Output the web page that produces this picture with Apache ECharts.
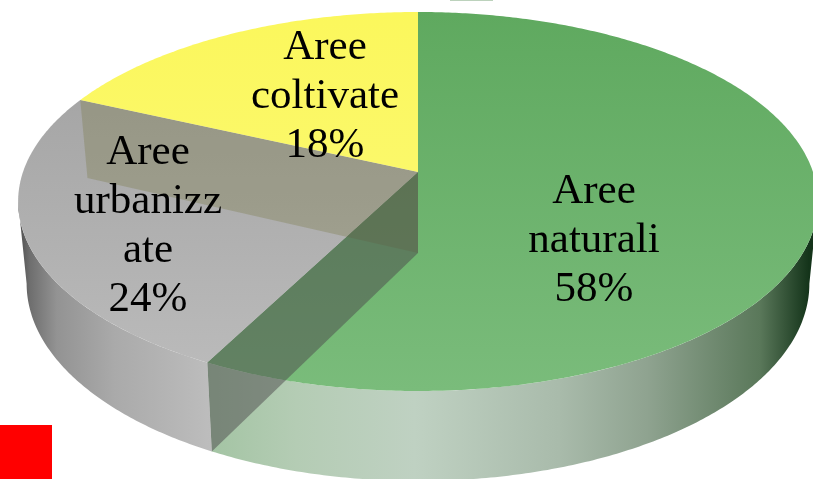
<!DOCTYPE html>
<html><head><meta charset="utf-8">
<script src="https://cdn.jsdelivr.net/npm/echarts@6/dist/echarts.min.js"></script>
<style>html,body{margin:0;padding:0;background:#fff}#c{width:813px;height:479px}</style>
</head><body><div id="c"></div>
<script>
const categories = ['Aree\nnaturali', 'Aree\nurbanizz\nate', 'Aree\ncoltivate'];
const shares = [57.6, 24.2, 18.2];

// projection of the tilted disc
const topFace = {cx: 418, cy: 172, a: 395, b: 184.9, k: -0.1557};
const baseFace = {cx: 418, cy: 253, a: 386.6, b: 192.5, k: -0.1557};
const labelAnchors = [[594, 240.5], [148, 226], [325, 97]];
const topFills = [
  [[0, '#5fa95f'], [1, '#7abc7b']],
  [[0, '#a6a6a6'], [1, '#bababa']],
  [[0, '#fbf75c'], [1, '#fbf86a']]
];
const wallStops = [
  [[0, '#a3c4a3'], [0.145, '#b4ccb4'], [0.34, '#bfd1c2'], [0.575, '#a9bbab'], [0.72, '#8fa390'], [0.905, '#5a785a'], [0.985, '#14341a']],
  [[0, '#4c4c4c'], [0.06, '#6e6e6e'], [0.2, '#939393'], [0.5, '#aaaaaa'], [1, '#bdbdbd']]
];
const total = shares.reduce((s, v) => s + v, 0);
const startAngle = i => shares.slice(0, i).reduce((s, v) => s + v, 0) / total * 2 * Math.PI;
const project = (f, t) => {
  const u = Math.sin(t), v = -Math.cos(t), d = 1 + f.k * v;
  return [f.cx + f.a * u / d, f.cy + f.b * v / d];
};
const arc = (f, t0, t1) => {
  const n = Math.max(2, Math.ceil(Math.abs(t1 - t0) / 0.01)), out = [];
  for (let j = 0; j <= n; j++) out.push(project(f, t0 + (t1 - t0) * j / n));
  return out;
};
const grad = (stops, x2, y2) => new echarts.graphic.LinearGradient(0, 0, x2, y2,
  stops.map(s => ({offset: s[0], color: s[1]})));
const wallMin = Math.PI - Math.acos(0.156), wallMax = Math.PI + Math.acos(0.156);

function wallItem(params, api) {
  const i = params.dataIndex, t0 = Math.max(startAngle(i), wallMin),
        t1 = Math.min(startAngle(i) + api.value(0) / total * 2 * Math.PI, wallMax);
  if (t1 <= t0) return null;
  return {type: 'polygon', shape: {points: arc(topFace, t0, t1).concat(arc(baseFace, t1, t0))},
    style: {fill: grad(wallStops[i], 1, 0)}};
}
function topItem(params, api) {
  const i = params.dataIndex, t0 = startAngle(i), t1 = t0 + api.value(0) / total * 2 * Math.PI;
  return {type: 'polygon', shape: {points: [[topFace.cx, topFace.cy]].concat(arc(topFace, t0, t1))},
    style: {fill: grad(topFills[i], 0, 1)}};
}
function innerItem(params, api) {
  const i = params.dataIndex;
  if (i > 1) return null;
  const t = startAngle(i + 1), p = project(topFace, t), q = project(baseFace, t);
  return {type: 'polygon', z2: i === 0 ? 3 : 2,
    shape: {points: [[topFace.cx, topFace.cy], p, q, [baseFace.cx, baseFace.cy]]},
    style: {fill: i === 0 ? 'rgba(76,72,75,0.5)' : 'rgba(116,116,60,0.3)'}};
}
function labelItem(params, api) {
  const i = params.dataIndex, a = labelAnchors[i];
  return {type: 'text', z2: 10, style: {
    text: categories[i] + '\n' + Math.round(api.value(0)) + '%',
    x: a[0], y: a[1], align: 'center', verticalAlign: 'middle',
    font: '43px "Liberation Serif"', lineHeight: 49, fill: '#000'}};
}
const data = shares.map(v => [v]);
const layer = (fn, z) => ({type: 'custom', coordinateSystem: 'none', renderItem: fn, data, z, silent: true});

const chart = echarts.init(document.getElementById('c'), null, {renderer: 'canvas'});
chart.setOption({
  animation: false,
  backgroundColor: '#fff',
  series: [layer(wallItem, 1), layer(topItem, 2), layer(innerItem, 3), layer(labelItem, 4)],
  graphic: [
    {type: 'rect', shape: {x: 0, y: 425, width: 52, height: 54}, style: {fill: '#ff0000'}, z: 5},
    {type: 'rect', shape: {x: 450, y: 0, width: 43, height: 1}, style: {fill: '#bcd2bc'}, z: 5}
  ]
});
</script></body></html>
